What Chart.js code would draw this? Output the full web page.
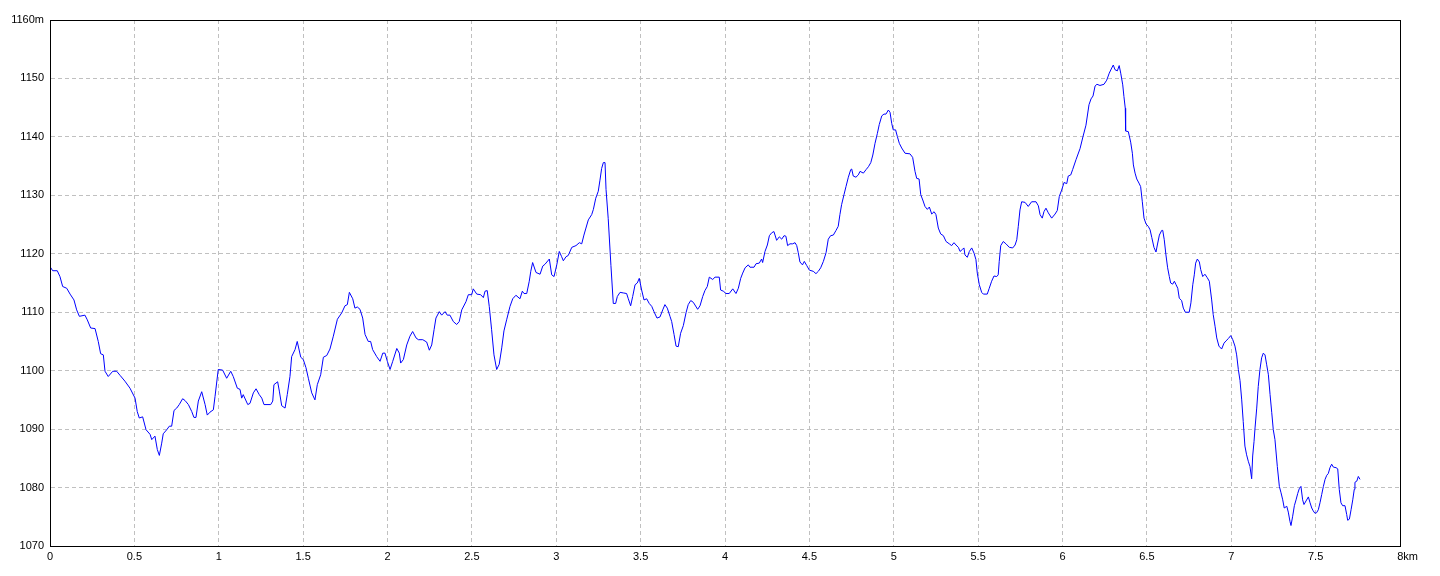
<!DOCTYPE html>
<html>
<head>
<meta charset="utf-8">
<script src="https://cdn.jsdelivr.net/npm/chart.js@4.4.0/dist/chart.umd.min.js"></script>
<style>
  html, body { margin: 0; padding: 0; background: #fff; }
  #wrap { width: 1440px; height: 576px; }
</style>
</head>
<body>
<div id="wrap"><canvas id="chart" width="1440" height="576"></canvas></div>
<script>
// distance along the track (km) and elevation (m)
const distKm = [
  0.000, 0.016, 0.043, 0.059, 0.075, 0.099, 0.119, 0.142, 0.158, 0.174, 0.207, 0.221, 0.241, 0.267, 0.286, 0.300,
  0.316, 0.326, 0.345, 0.372, 0.395, 0.415, 0.444, 0.474, 0.504, 0.517, 0.529, 0.549, 0.569, 0.593, 0.603, 0.622,
  0.636, 0.648, 0.662, 0.671, 0.692, 0.707, 0.721, 0.735, 0.751, 0.766, 0.786, 0.800, 0.820, 0.840, 0.853, 0.865,
  0.879, 0.899, 0.919, 0.932, 0.948, 0.968, 0.978, 0.997, 1.023, 1.047, 1.071, 1.086, 1.110, 1.126, 1.136, 1.145,
  1.172, 1.185, 1.205, 1.221, 1.240, 1.255, 1.268, 1.308, 1.320, 1.327, 1.349, 1.359, 1.373, 1.393, 1.406, 1.422,
  1.432, 1.452, 1.465, 1.486, 1.501, 1.517, 1.531, 1.551, 1.570, 1.584, 1.604, 1.620, 1.640, 1.659, 1.679, 1.703,
  1.729, 1.748, 1.762, 1.774, 1.794, 1.807, 1.821, 1.837, 1.853, 1.867, 1.886, 1.900, 1.912, 1.936, 1.956, 1.972,
  1.985, 1.999, 2.015, 2.031, 2.055, 2.070, 2.078, 2.094, 2.114, 2.133, 2.149, 2.169, 2.183, 2.209, 2.232, 2.248,
  2.262, 2.276, 2.287, 2.307, 2.321, 2.341, 2.354, 2.370, 2.390, 2.410, 2.425, 2.440, 2.465, 2.479, 2.499, 2.508,
  2.529, 2.552, 2.568, 2.578, 2.591, 2.603, 2.617, 2.631, 2.647, 2.662, 2.677, 2.690, 2.706, 2.726, 2.742, 2.761,
  2.785, 2.799, 2.809, 2.825, 2.840, 2.849, 2.860, 2.880, 2.904, 2.920, 2.933, 2.959, 2.973, 2.987, 3.003, 3.018,
  3.032, 3.042, 3.058, 3.071, 3.092, 3.117, 3.137, 3.151, 3.164, 3.176, 3.190, 3.210, 3.220, 3.234, 3.249, 3.259,
  3.269, 3.279, 3.289, 3.295, 3.308, 3.324, 3.338, 3.352, 3.362, 3.378, 3.397, 3.417, 3.427, 3.441,
  3.453, 3.467, 3.480, 3.492, 3.506, 3.520, 3.536, 3.551, 3.566, 3.579, 3.597, 3.615, 3.631, 3.644, 3.658, 3.674,
  3.684, 3.698, 3.710, 3.723, 3.737, 3.753, 3.769, 3.782, 3.797, 3.812, 3.838, 3.852, 3.868, 3.881, 3.895, 3.907,
  3.927, 3.941, 3.966, 3.974, 3.990, 4.006, 4.025, 4.046, 4.065, 4.079, 4.093, 4.105, 4.119, 4.138, 4.148, 4.172,
  4.184, 4.203, 4.217, 4.223, 4.237, 4.251, 4.263, 4.277, 4.290, 4.306, 4.322, 4.336, 4.350, 4.361, 4.371, 4.385,
  4.401, 4.415, 4.425, 4.434, 4.444, 4.459, 4.470, 4.484, 4.500, 4.523, 4.539, 4.553, 4.567, 4.583, 4.599, 4.612,
  4.626, 4.642, 4.658, 4.671, 4.681, 4.691, 4.705, 4.717, 4.731, 4.745, 4.751, 4.760, 4.776, 4.790, 4.800, 4.820,
  4.836, 4.850, 4.864, 4.876, 4.889, 4.903, 4.914, 4.929, 4.942, 4.954, 4.968, 4.978, 4.988, 4.997, 5.011, 5.021,
  5.033, 5.047, 5.067, 5.096, 5.112, 5.126, 5.136, 5.150, 5.160, 5.172, 5.185, 5.199, 5.211, 5.225, 5.239, 5.250,
  5.264, 5.278, 5.294, 5.310, 5.329, 5.343, 5.357, 5.369, 5.383, 5.393, 5.409, 5.416, 5.422, 5.436, 5.448, 5.462,
  5.476, 5.487, 5.495, 5.507, 5.521, 5.531, 5.554, 5.566, 5.580, 5.594, 5.610, 5.619, 5.625, 5.634, 5.649, 5.665,
  5.685, 5.705, 5.719, 5.729, 5.738, 5.748, 5.758, 5.778, 5.797, 5.817, 5.843, 5.857, 5.867, 5.880, 5.890, 5.902,
  5.916, 5.936, 5.956, 5.969, 5.981, 5.995, 6.009, 6.025, 6.034, 6.049, 6.060, 6.080, 6.104, 6.121, 6.139, 6.157,
  6.169, 6.181, 6.193, 6.204, 6.222, 6.246, 6.262, 6.277, 6.292, 6.301, 6.311, 6.325, 6.336, 6.345, 6.357, 6.364,
  6.372, 6.374, 6.390, 6.404, 6.414, 6.420, 6.430, 6.440, 6.453, 6.463, 6.473, 6.483, 6.495, 6.508, 6.519, 6.529,
  6.542, 6.554, 6.562, 6.574, 6.588, 6.594, 6.603, 6.613, 6.623, 6.633, 6.641, 6.653, 6.663, 6.673, 6.683, 6.692,
  6.706, 6.716, 6.728, 6.751, 6.761, 6.772, 6.781, 6.789, 6.799, 6.811, 6.819, 6.831, 6.844, 6.858, 6.870, 6.884,
  6.893, 6.904, 6.914, 6.927, 6.943, 6.957, 6.969, 6.983, 6.997, 7.009, 7.022, 7.032, 7.042, 7.052, 7.062, 7.071,
  7.081, 7.091, 7.101, 7.111, 7.121, 7.127, 7.135, 7.141, 7.151, 7.160, 7.170, 7.180, 7.190, 7.200, 7.210, 7.220,
  7.230, 7.240, 7.249, 7.259, 7.273, 7.285, 7.295, 7.305, 7.314, 7.329, 7.338, 7.348, 7.354, 7.364, 7.374, 7.384,
  7.394, 7.403, 7.413, 7.423, 7.431, 7.443, 7.457, 7.467, 7.477, 7.486, 7.496, 7.506, 7.516, 7.526, 7.536, 7.546,
  7.556, 7.566, 7.575, 7.585, 7.595, 7.605, 7.621, 7.631, 7.640, 7.650, 7.660, 7.674, 7.684, 7.690, 7.700, 7.710,
  7.720, 7.729, 7.733, 7.744, 7.753, 7.763
];
const elevM = [
  1117.8, 1117.1, 1117.1, 1116.1, 1114.4, 1114.1, 1113.1, 1112.1, 1110.4, 1109.3, 1109.5, 1108.7, 1107.3, 1107.2, 1105.0, 1102.9,
  1102.7, 1099.9, 1099.0, 1099.9, 1099.9, 1099.2, 1098.2, 1097.0, 1095.3, 1093.0, 1091.9, 1092.1, 1089.9, 1089.1, 1088.2, 1088.8,
  1086.5, 1085.5, 1087.6, 1089.2, 1089.9, 1090.5, 1090.5, 1093.2, 1093.6, 1094.2, 1095.2, 1094.9, 1094.2, 1093.0, 1092.0, 1092.0,
  1094.8, 1096.4, 1094.2, 1092.4, 1092.9, 1093.3, 1095.6, 1100.2, 1100.1, 1098.7, 1099.9, 1099.0, 1097.0, 1096.8, 1095.3, 1095.9,
  1094.2, 1094.4, 1096.2, 1096.9, 1095.9, 1095.3, 1094.2, 1094.2, 1094.8, 1097.6, 1098.1, 1096.5, 1094.0, 1093.6, 1095.9, 1099.0,
  1102.4, 1103.6, 1105.0, 1102.3, 1101.9, 1100.5, 1098.7, 1096.2, 1095.0, 1097.6, 1099.3, 1102.3, 1102.6, 1103.7, 1105.9, 1108.8,
  1109.9, 1111.1, 1111.3, 1113.4, 1112.3, 1110.7, 1110.9, 1110.5, 1109.0, 1106.2, 1105.0, 1105.0, 1103.6, 1102.4, 1101.6, 1103.0,
  1103.0, 1101.6, 1100.2, 1101.6, 1103.8, 1103.0, 1101.3, 1101.9, 1104.4, 1105.9, 1106.7, 1105.6, 1105.3, 1105.3, 1104.9, 1103.5,
  1104.4, 1107.0, 1109.0, 1110.1, 1109.5, 1110.1, 1109.5, 1109.5, 1108.4, 1107.9, 1108.4, 1110.4, 1111.8, 1113.0, 1113.0, 1114.0,
  1113.1, 1113.0, 1112.5, 1113.6, 1113.7, 1111.0, 1107.0, 1102.7, 1100.2, 1101.1, 1103.9, 1106.8, 1108.7, 1111.0, 1112.3, 1112.9,
  1112.3, 1113.6, 1113.2, 1113.2, 1115.3, 1117.0, 1118.5, 1116.8, 1116.5, 1117.9, 1118.2, 1119.1, 1116.4, 1116.1, 1118.1, 1120.4,
  1119.5, 1118.8, 1119.5, 1119.7, 1121.1, 1121.4, 1121.9, 1121.7, 1123.2, 1124.4, 1125.8, 1126.7, 1127.6, 1129.5, 1130.7, 1132.6,
  1134.6, 1135.6, 1135.6, 1131.0, 1126.0, 1118.0, 1111.5, 1111.5, 1112.7, 1113.4, 1113.3, 1113.2, 1112.3, 1111.1,
  1112.7, 1114.7, 1115.0, 1115.8, 1113.8, 1112.1, 1112.3, 1111.5, 1111.0, 1110.1, 1109.0, 1109.2, 1110.4, 1111.3, 1110.7, 1109.3,
  1108.4, 1106.2, 1104.2, 1104.1, 1106.4, 1107.7, 1109.9, 1111.3, 1112.0, 1111.7, 1110.5, 1111.1, 1112.7, 1113.7, 1114.4, 1116.0,
  1115.6, 1116.0, 1116.0, 1113.8, 1113.6, 1113.2, 1113.2, 1114.0, 1113.2, 1114.1, 1115.8, 1116.7, 1117.6, 1118.1, 1117.7, 1117.7,
  1118.3, 1118.4, 1119.1, 1118.5, 1120.4, 1121.5, 1123.1, 1123.6, 1123.8, 1122.3, 1122.9, 1122.5, 1123.1, 1123.0, 1121.4, 1121.7,
  1121.7, 1121.9, 1121.4, 1120.2, 1118.6, 1118.1, 1118.7, 1118.0, 1117.2, 1117.0, 1116.6, 1117.0, 1117.6, 1118.7, 1120.2, 1122.5,
  1123.1, 1123.2, 1124.0, 1124.7, 1126.7, 1128.4, 1130.1, 1131.5, 1133.1, 1134.4, 1134.5, 1133.3, 1133.1, 1133.5, 1134.1, 1133.8,
  1134.4, 1134.9, 1135.6, 1136.9, 1138.9, 1140.6, 1142.1, 1143.6, 1143.9, 1143.9, 1144.6, 1144.2, 1142.3, 1141.2, 1141.2, 1140.1,
  1138.9, 1138.1, 1137.2, 1137.1, 1136.5, 1134.1, 1132.9, 1132.8, 1130.1, 1129.2, 1128.1, 1127.6, 1128.0, 1126.8, 1127.2, 1126.7,
  1124.4, 1123.4, 1123.1, 1122.1, 1121.7, 1121.4, 1121.9, 1121.5, 1121.1, 1120.4, 1120.8, 1121.0, 1119.8, 1119.4, 1120.4, 1121.0,
  1120.1, 1119.0, 1116.7, 1114.7, 1113.4, 1113.1, 1113.1, 1114.1, 1115.3, 1116.2, 1116.1, 1116.4, 1118.7, 1121.4, 1122.1, 1121.7,
  1121.1, 1121.0, 1121.5, 1122.4, 1124.7, 1127.5, 1128.9, 1128.8, 1128.1, 1128.9, 1128.9, 1128.2, 1126.7, 1126.1, 1127.2, 1127.8,
  1127.0, 1126.1, 1126.8, 1127.4, 1129.8, 1130.9, 1132.2, 1132.0, 1133.3, 1133.5, 1134.4, 1136.1, 1138.0, 1140.0, 1142.0, 1145.5,
  1146.5, 1147.0, 1148.7, 1149.0, 1148.8, 1149.0, 1149.7, 1150.9, 1151.8, 1152.3, 1151.5, 1151.3, 1152.2, 1150.9, 1148.9, 1146.9,
  1144.9, 1141.0, 1140.9, 1139.1, 1137.2, 1135.2, 1133.8, 1132.8, 1132.1, 1131.5, 1128.9, 1126.1, 1125.1, 1124.7, 1124.1, 1122.8,
  1121.1, 1120.3, 1121.5, 1123.2, 1124.0, 1124.0, 1122.4, 1119.8, 1117.6, 1116.1, 1115.0, 1114.8, 1115.3, 1114.7, 1114.1, 1112.4,
  1112.0, 1110.7, 1110.0, 1110.0, 1111.6, 1114.7, 1116.4, 1118.4, 1119.1, 1118.6, 1117.3, 1116.1, 1116.5, 1115.9, 1115.3, 1112.1,
  1109.6, 1107.6, 1105.6, 1104.2, 1103.7, 1104.7, 1105.1, 1105.5, 1106.0, 1105.3, 1104.2, 1102.7, 1100.2, 1098.3, 1095.0, 1091.3,
  1087.1, 1085.6, 1084.5, 1083.6, 1081.5, 1085.4, 1087.9, 1090.2, 1093.6, 1097.3, 1100.2, 1102.2, 1103.0, 1102.7, 1101.0, 1099.3,
  1095.9, 1092.8, 1089.9, 1088.2, 1083.6, 1080.2, 1079.1, 1077.9, 1076.5, 1076.8, 1075.8, 1074.2, 1073.5, 1075.1, 1076.9, 1077.9,
  1079.0, 1079.8, 1080.2, 1077.9, 1077.1, 1077.7, 1078.4, 1077.4, 1076.5, 1076.0, 1075.6, 1075.7, 1076.2, 1077.4, 1078.8, 1080.2,
  1081.4, 1082.1, 1082.4, 1083.4, 1084.0, 1083.5, 1083.4, 1083.2, 1079.7, 1077.4, 1076.9, 1076.9, 1075.4, 1074.4, 1074.6, 1076.2,
  1077.9, 1079.7, 1080.9, 1081.1, 1081.9, 1081.4
];

// axis ranges and units
const xMin = 0, xMax = 8, xStep = 0.5, xUnit = 'km';
const yMin = 1070, yMax = 1160, yStep = 10, yUnit = 'm';

const points = distKm.map((d, i) => ({ x: d, y: elevM[i] }));

Chart.defaults.font.family = "'Liberation Sans', Arial, sans-serif";
Chart.defaults.font.size = 11;
Chart.defaults.color = '#000';

// black frame around the plot area (top and right sides too)
const frame = {
  id: 'frame',
  afterDraw(chart) {
    const { ctx, chartArea: a } = chart;
    ctx.save();
    ctx.strokeStyle = '#000';
    ctx.lineWidth = 1;
    ctx.strokeRect(a.left + 0.5, a.top + 0.5, a.right - a.left, a.bottom - a.top);
    ctx.restore();
  }
};

new Chart(document.getElementById('chart'), {
  type: 'line',
  data: {
    datasets: [{
      data: points,
      borderColor: '#0000ff',
      borderWidth: 1,
      pointRadius: 0,
      tension: 0,
      fill: false
    }]
  },
  options: {
    responsive: false,
    animation: false,
    layout: { padding: { top: 20, right: 40, left: 0, bottom: 0 } },
    plugins: { legend: { display: false }, tooltip: { enabled: false } },
    scales: {
      x: {
        type: 'linear',
        min: xMin,
        max: xMax,
        afterFit: (s) => { s.height = 30; },
        grid: { color: '#c0c0c0', lineWidth: 1, drawTicks: false },
        border: { color: '#000', width: 1, dash: [4, 3] },
        ticks: {
          stepSize: xStep,
          autoSkip: false,
          maxRotation: 0,
          padding: 4,
          // last label carries the unit, pushed right so it starts at the tick
          callback: (v) => v === xMax ? '\u00a0\u00a0\u00a0\u00a0\u00a0' + v + xUnit : String(v)
        }
      },
      y: {
        min: yMin,
        max: yMax,
        afterFit: (s) => { s.width = 50; },
        grid: { color: '#c0c0c0', lineWidth: 1, drawTicks: false },
        border: { color: '#000', width: 1, dash: [4, 3] },
        ticks: {
          stepSize: yStep,
          autoSkip: false,
          padding: 6,
          callback: (v) => v === yMax ? v + yUnit : String(v)
        }
      }
    }
  },
  plugins: [frame]
});
</script>
</body>
</html>
